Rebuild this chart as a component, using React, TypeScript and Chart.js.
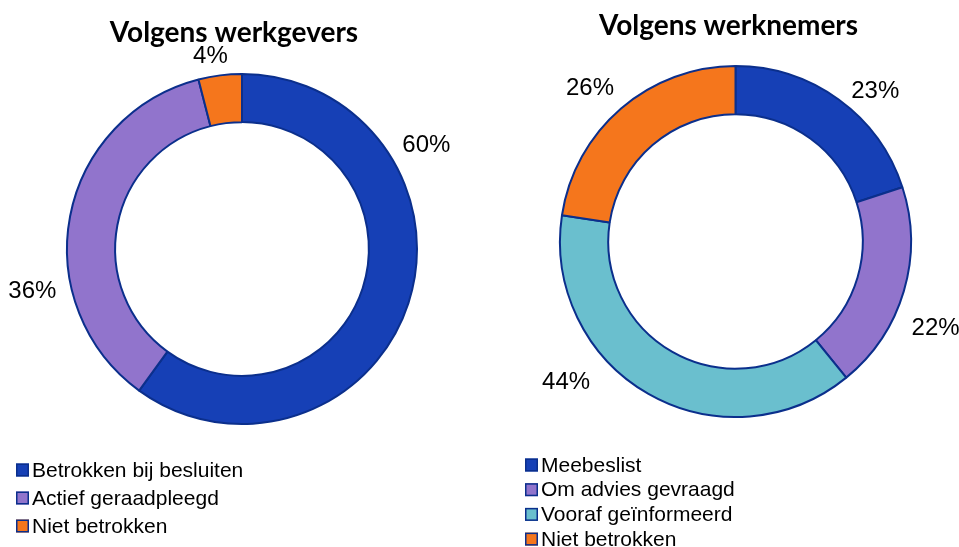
import React, { useEffect, useRef } from "react";
import { Chart, registerables } from "chart.js";

Chart.register(...registerables);

// ---- data ----
const leftTitle = "Volgens werkgevers";
const leftCategories = ["Betrokken bij besluiten", "Actief geraadpleegd", "Niet betrokken"];
const leftValues = [60, 36, 4];

const rightTitle = "Volgens werknemers";
const rightCategories = ["Meebeslist", "Om advies gevraagd", "Vooraf geïnformeerd", "Niet betrokken"];
const rightValues = [23, 22, 44, 26];

// ---- styles ----
const BLUE = "#1640B6";
const PURPLE = "#9174CC";
const TEAL = "#6ABFCE";
const ORANGE = "#F5761C";
const BORDER = "#0B2F8C";

const leftColors = [BLUE, PURPLE, ORANGE];
const rightColors = [BLUE, PURPLE, TEAL, ORANGE];

const LABEL_FONT = "24px 'Liberation Sans', Arial, sans-serif";
const LEGEND_FONT = "21px 'Liberation Sans', Arial, sans-serif";
const TITLE_FONT = "bold 28px Lato, 'Open Sans', sans-serif";

type Cfg = {
  title: string;
  titleY: number;
  titleDx: number;
  labelShift: number[]; // degrees
  labelGap: number[];
  legendX: number;
  legendY: number;
  legendStep: number;
};

const decorPlugin = {
  id: "decor",
  afterDraw(chart: any, _args: any, opts: Cfg) {
    const ctx = chart.ctx as CanvasRenderingContext2D;
    const meta = chart.getDatasetMeta(0);
    const ds = chart.data.datasets[0];
    const area = chart.chartArea;
    ctx.save();
    // title
    ctx.font = TITLE_FONT;
    ctx.fillStyle = "#000";
    ctx.textAlign = "center";
    ctx.textBaseline = "middle";
    ctx.fillText(opts.title, (area.left + area.right) / 2 + opts.titleDx, opts.titleY);

    // labels
    ctx.font = LABEL_FONT;
    meta.data.forEach((arc: any, i: number) => {
      const p = arc.getProps(["startAngle", "endAngle", "outerRadius", "x", "y"], true);
      const mid = (p.startAngle + p.endAngle) / 2 + ((opts.labelShift[i] || 0) * Math.PI) / 180;
      const text = ds.data[i] + "%";
      const w = ctx.measureText(text).width;
      const h = 23;
      const cx = Math.cos(mid);
      const sy = Math.sin(mid);
      const ext = (Math.abs(cx) * w) / 2 + (Math.abs(sy) * h) / 2;
      const r = p.outerRadius + (opts.labelGap[i] || 0) + ext;
      ctx.fillText(text, p.x + cx * r, p.y + sy * r);
    });

    // legend
    ctx.font = LEGEND_FONT;
    ctx.textAlign = "left";
    chart.data.labels.forEach((lab: string, i: number) => {
      const y = opts.legendY + i * opts.legendStep;
      ctx.fillStyle = ds.backgroundColor[i];
      ctx.fillRect(opts.legendX, y - 6.5, 13, 13);
      ctx.strokeStyle = BORDER;
      ctx.lineWidth = 1.5;
      ctx.strokeRect(opts.legendX + 0.75, y - 5.75, 11.5, 11.5);
      ctx.fillStyle = "#000";
      ctx.fillText(lab, opts.legendX + 16, y + 1);
    });
    ctx.restore();
  },
};

function Donut(props: {
  categories: string[];
  values: number[];
  colors: string[];
  padding: { top: number; left: number; right: number; bottom: number };
  cfg: Cfg;
  width: number;
  left: number;
}) {
  const ref = useRef<HTMLCanvasElement>(null);
  useEffect(() => {
    if (!ref.current) return;
    const chart = new Chart(ref.current, {
      type: "doughnut",
      data: {
        labels: props.categories,
        datasets: [
          {
            data: props.values,
            backgroundColor: props.colors,
            borderColor: BORDER,
            borderWidth: 2,
          },
        ],
      },
      options: {
        animation: false,
        responsive: false,
        cutout: "72.5%",
        layout: { padding: props.padding },
        plugins: {
          legend: { display: false },
          title: { display: false },
          tooltip: { enabled: false },
          decor: props.cfg,
        } as any,
      },
      plugins: [decorPlugin],
    });
    return () => chart.destroy();
  }, []);
  return (
    <canvas
      ref={ref}
      width={props.width}
      height={547}
      style={{ position: "absolute", left: props.left, top: 0, width: props.width, height: 547 }}
    />
  );
}

export default function App() {
  return (
    <div style={{ position: "absolute", left: 0, top: 0, width: 959, height: 547, background: "#fff" }}>
      <Donut
        categories={leftCategories}
        values={leftValues}
        colors={leftColors}
        width={480}
        left={0}
        padding={{ top: 73, left: 66, right: 62, bottom: 122 }}
        cfg={{
          title: leftTitle,
          titleY: 33,
          titleDx: -8,
          labelShift: [-47.4, -22.1, -2.1],
          labelGap: [10, 13, 6],
          legendX: 16,
          legendY: 470,
          legendStep: 28,
        }}
      />
      <Donut
        categories={rightCategories}
        values={rightValues}
        colors={rightColors}
        width={479}
        left={480}
        padding={{ top: 65, left: 79, right: 479 - 432, bottom: 547 - 418 }}
        cfg={{
          title: rightTitle,
          titleY: 26,
          titleDx: -7,
          labelShift: [6.9, 7, 20.5, -2.8],
          labelGap: [5, 16, 19, 11],
          legendX: 45,
          legendY: 465,
          legendStep: 24.7,
        }}
      />
    </div>
  );
}
